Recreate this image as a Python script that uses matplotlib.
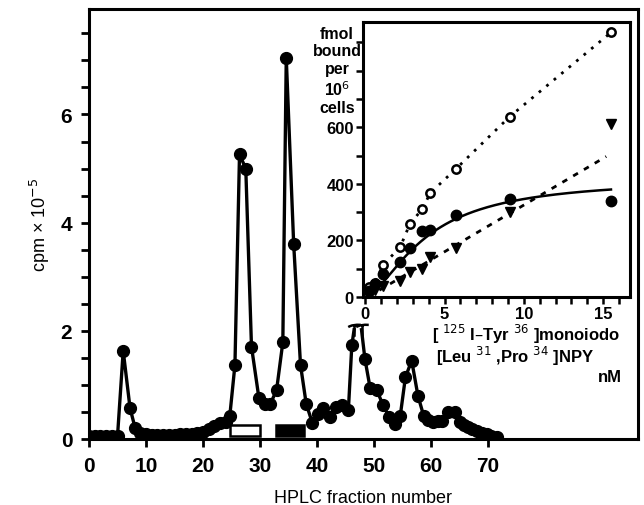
import numpy as np
import matplotlib
matplotlib.use("Agg")
import matplotlib.pyplot as plt
from matplotlib.path import Path

plt.rcParams['font.family'] = ['Liberation Sans', 'DejaVu Sans']

# ---- main HPLC profile (fraction number, cpm x 1e-5); NaN marks the axis break
fraction = [0, 1, 2, 3, 4, 5, 6.0, 7.2, 8.1, 9, 10, 11, 12, 13, 14, 15, 16, 17, 18, 19,
            20, 21, 22, 23, 24, 24.7, 25.6, 26.4, 27.5, 28.5, 29.8, 30.8, 31.8, 32.9,
            34.0, 34.6, 35.9, 37.1, 38.1, 39.2, 40.2, 41.1, 42.2, 43.3, 44.3, 45.5,
            46.1, 46.5, np.nan, 47.8, 48.4, 49.3, 50.5, 51.6, 52.7, 53.7, 54.6, 55.5,
            56.6, 57.7, 58.7, 59.5, 60.4, 61.2, 61.9, 63.0, 64.2, 65.1, 65.8, 66.5,
            67.2, 68.0, 69.0, 69.8, 70.6, 71.5]
cpm = [0.05, 0.05, 0.05, 0.05, 0.05, 0.05, 1.63, 0.57, 0.20, 0.12, 0.09, 0.08, 0.08,
       0.08, 0.08, 0.08, 0.09, 0.10, 0.10, 0.11, 0.13, 0.18, 0.24, 0.29, 0.32, 0.43,
       1.37, 5.26, 5.00, 1.71, 0.76, 0.65, 0.65, 0.90, 1.79, 7.05, 3.61, 1.37, 0.65,
       0.29, 0.46, 0.57, 0.40, 0.59, 0.62, 0.54, 1.73, 2.02, np.nan, 2.02, 1.48, 0.95,
       0.90, 0.62, 0.40, 0.28, 0.43, 1.14, 1.45, 0.80, 0.43, 0.35, 0.31, 0.33, 0.34,
       0.49, 0.49, 0.31, 0.25, 0.22, 0.18, 0.15, 0.12, 0.09, 0.06, 0.03]
break_fracs = [46.5, 47.8]   # ends of the broken (off-scale) peak
break_level = 2.02

open_box = [24.7, 30.0]     # fraction span of open bar
filled_box = [32.8, 37.7]   # fraction span of filled bar

x_ticks = [0, 10, 20, 30, 40, 50, 60, 70]
y_ticks = [0, 2, 4, 6]

# ---- inset binding data (nM, fmol bound per 1e6 cells)
conc = [0.2, 0.6, 1.1, 2.2, 2.8, 3.6, 4.1, 5.7, 9.1, 15.5]
bound_open = [35, 50, 112, 177, 257, 312, 368, 452, 637, 935]
bound_filled = [20, 45, 80, 124, 174, 235, 237, 290, 346, 340]
bound_tri = [10, 25, 40, 58, 88, 100, 142, 174, 302, 612]
# saturation fit for filled circles (Hill): Bmax, K, n
hill_bmax, hill_k, hill_n = 420.0, 3.8, 1.6
# linear fit for triangles
tri_slope, tri_icpt = 33.0, -5.0

fig = plt.figure(figsize=(6.44, 5.06), dpi=100)
ax = fig.add_axes([89/644, 1-440/506, (638-89)/644, (440-10)/506])

fr = np.array(fraction, float)
cp = np.array(cpm, float)
ax.plot(fr, cp, color='black', lw=2.4, zorder=3)
is_break = np.isin(fr, break_fracs) | np.isnan(fr)
ax.plot(fr[~is_break], cp[~is_break], 'o', color='black', ms=8.5, zorder=4)
# break symbol: small hooked cap
brk = Path([(-1.0, 0.55), (-0.3, 1.0), (1.0, 0.9), (0.0, 0.95), (0.0, -1.0)],
           [Path.MOVETO, Path.CURVE3, Path.CURVE3, Path.MOVETO, Path.LINETO])
ax.plot(break_fracs, [break_level] * len(break_fracs), ls='none', marker=brk,
        ms=9, mew=1.8, mec='black', mfc='none', zorder=5)

ax.add_patch(plt.Rectangle((open_box[0], 0.06), open_box[1]-open_box[0], 0.19,
                           facecolor='white', edgecolor='black', lw=1.8, zorder=5))
ax.add_patch(plt.Rectangle((filled_box[0], 0.06), filled_box[1]-filled_box[0], 0.19,
                           facecolor='black', edgecolor='black', lw=1.8, zorder=5))

ax.set_xlim(0, 96.3)
ax.set_ylim(0, 7.95)
ax.set_xticks(x_ticks)
ax.set_yticks(y_ticks)
ax.set_yticks(np.arange(0, 8.0, 0.5), minor=True)
ax.tick_params(axis='both', which='major', direction='out', length=6, width=2,
               labelsize=15, pad=6)
ax.tick_params(axis='y', which='minor', direction='out', length=6, width=2)
for lab in ax.get_xticklabels() + ax.get_yticklabels():
    lab.set_fontweight('bold')
for s in ax.spines.values():
    s.set_linewidth(2.2)
ax.set_xlabel('HPLC fraction number', fontsize=13, labelpad=10)
ax.set_ylabel('cpm × 10$^{-5}$', fontsize=13, labelpad=6)

# ---- inset
ins = fig.add_axes([363/644, 1-298/506, (630-363)/644, (298-23)/506])
ins.set_zorder(10)
ins.set_facecolor('white')
c = np.array(conc)
ins.plot(c, bound_open, color='black', ls=(0, (1, 2.5)), lw=2, zorder=3)
ins.plot(c, bound_open, 'o', mfc='white', mec='black', mew=1.8, ms=6, zorder=4)
xf = np.linspace(0, c[-1], 200)
ins.plot(xf, hill_bmax * xf**hill_n / (hill_k**hill_n + xf**hill_n), color='black',
         lw=1.8, zorder=3)
ins.plot(c, bound_filled, 'o', color='black', ms=7.5, zorder=4)
xl = np.linspace(0.2, 15.2, 2)
ins.plot(xl, tri_slope * xl + tri_icpt, color='black', ls=(0, (2, 2.5)), lw=2, zorder=3)
ins.plot(c, bound_tri, 'v', color='black', ms=7, zorder=4)

ins.set_xlim(-0.15, 16.7)
ins.set_ylim(0, 972)
ins.set_xticks([0, 5, 10, 15])
ins.set_xticks(np.arange(0, 17, 1), minor=True)
ins.set_yticks([0, 200, 400, 600])
ins.set_yticks(np.arange(0, 1000, 100), minor=True)
ins.tick_params(axis='both', which='both', direction='out', length=5, width=1.8,
                labelsize=12, pad=1.5)
for lab in ins.get_xticklabels() + ins.get_yticklabels():
    lab.set_fontweight('bold')
for s in ins.spines.values():
    s.set_linewidth(2.2)

fig.text(337/644, 1-27/506, 'fmol\nbound\nper\n10$^{6}$\ncells', ha='center', va='top',
         fontsize=11.5, fontweight='bold', linespacing=1.2)
fig.text(526/644, 1-334/506, '[ $^{125}$ I–Tyr $^{36}$ ]monoiodo', ha='center',
         va='center', fontsize=12, fontweight='bold')
fig.text(515/644, 1-356/506, '[Leu $^{31}$ ,Pro $^{34}$ ]NPY', ha='center',
         va='center', fontsize=12, fontweight='bold')
fig.text(622/644, 1-377/506, 'nM', ha='right', va='center', fontsize=12,
         fontweight='bold')

fig.savefig('out.png', dpi=100)
